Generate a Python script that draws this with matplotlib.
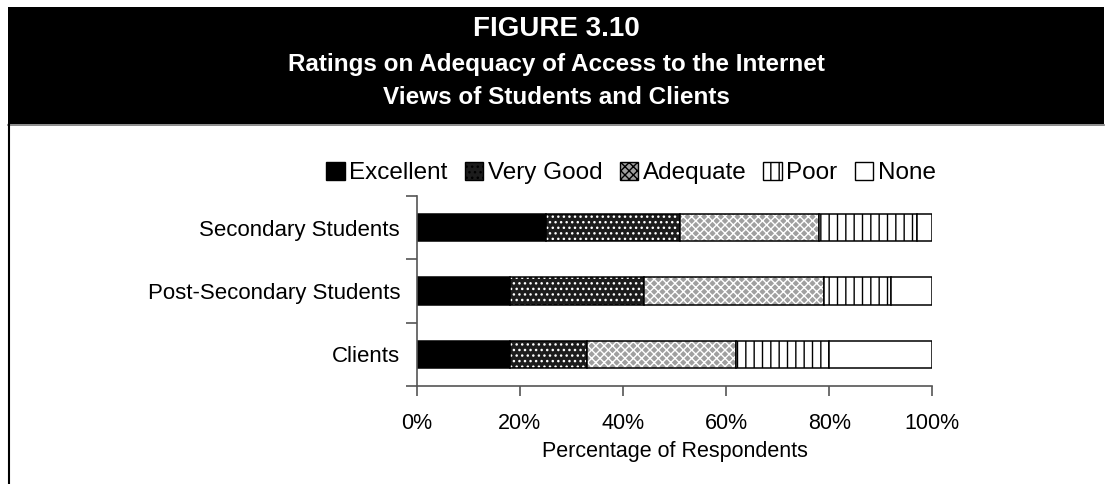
import matplotlib.pyplot as plt
from matplotlib.patches import Rectangle, Patch
from matplotlib.lines import Line2D
import numpy as np

plt.rcParams['font.family'] = ['Liberation Sans', 'DejaVu Sans']
plt.rcParams['hatch.linewidth'] = 1.0

groups = ['Secondary Students', 'Post-Secondary Students', 'Clients']
ratings = ['Excellent', 'Very Good', 'Adequate', 'Poor', 'None']
excellent = [25, 18, 18]
very_good = [26, 26, 15]
adequate = [27, 35, 29]
poor = [19, 13, 18]
none = [3, 8, 20]
xticks = [0, 20, 40, 60, 80, 100]

# face, hatch, hatch colour for each rating
styles = [
    ('black', None, 'black'),
    ('#1c1c1c', '...', 'white'),
    ('#a0a0a0', 'xxxx', 'white'),
    ('white', '||', 'black'),
    ('white', None, 'black'),
]

W, H = 1107, 484
fig = plt.figure(figsize=(W / 100, H / 100), dpi=100)

# header band
fig.add_artist(Rectangle((8 / W, 1 - 124 / H), 1096 / W, 117 / H,
                         transform=fig.transFigure, facecolor='black',
                         edgecolor='none'))
fig.add_artist(Line2D([8 / W, 1104 / W], [1 - 124.5 / H, 1 - 124.5 / H],
                      transform=fig.transFigure, color='#777', lw=1.2))
fig.add_artist(Line2D([8.5 / W, 8.5 / W], [0, 1 - 124 / H],
                      transform=fig.transFigure, color='black', lw=1.5))

fig.text(0.5025, 1 - 29 / H, 'FIGURE 3.10', color='white', fontsize=20,
         fontweight='bold', ha='center', va='center')
fig.text(0.5025, 1 - 65 / H, 'Ratings on Adequacy of Access to the Internet',
         color='white', fontsize=17.5, fontweight='bold', ha='center', va='center')
fig.text(0.5025, 1 - 98 / H, 'Views of Students and Clients',
         color='white', fontsize=17.5, fontweight='bold', ha='center', va='center')

ax = fig.add_axes([416.7 / W, 98.3 / H, 515.6 / W, 189.4 / H])

series = [excellent, very_good, adequate, poor, none]
y = np.arange(len(groups))
left = np.zeros(len(groups))
handles = []
for vals, (face, hatch, hc) in zip(series, styles):
    vals = np.array(vals, dtype=float)
    ax.barh(y, vals, left=left, height=0.43, color=face, hatch=hatch,
            edgecolor=hc, linewidth=0)
    ax.barh(y, vals, left=left, height=0.43, fill=False,
            edgecolor='black', linewidth=1.1)
    left += vals
    handles.append(Patch(facecolor=face, hatch=hatch, edgecolor='black',
                         linewidth=1.0))

ax.set_xlim(0, 100)
ax.set_ylim(2.5, -0.5)
ax.set_xticks(xticks)
ax.set_xticklabels([f'{t}%' for t in xticks], fontsize=15.5)
ax.set_yticks(y)
ax.set_yticklabels(groups, fontsize=16)
ax.set_yticks([-0.5, 0.5, 1.5, 2.5], minor=True)
ax.tick_params(axis='y', which='major', length=0, pad=12)
ax.tick_params(axis='y', which='minor', length=8, width=1.2, color='#555')
ax.tick_params(axis='x', length=7, width=1.2, color='#555', pad=13)
ax.set_xlabel('Percentage of Respondents', fontsize=15.5, labelpad=5)

for s in ['top', 'right']:
    ax.spines[s].set_visible(False)
for s in ['left', 'bottom']:
    ax.spines[s].set_color('#555')
    ax.spines[s].set_linewidth(1.2)

fig.legend(handles, ratings, loc='center', bbox_to_anchor=(0.57, 1 - 173 / H),
           ncol=5, frameon=False, fontsize=17.5, handlelength=0.75,
           handleheight=0.75, handletextpad=0.2, columnspacing=0.7)

fig.savefig('out.png', dpi=100)
